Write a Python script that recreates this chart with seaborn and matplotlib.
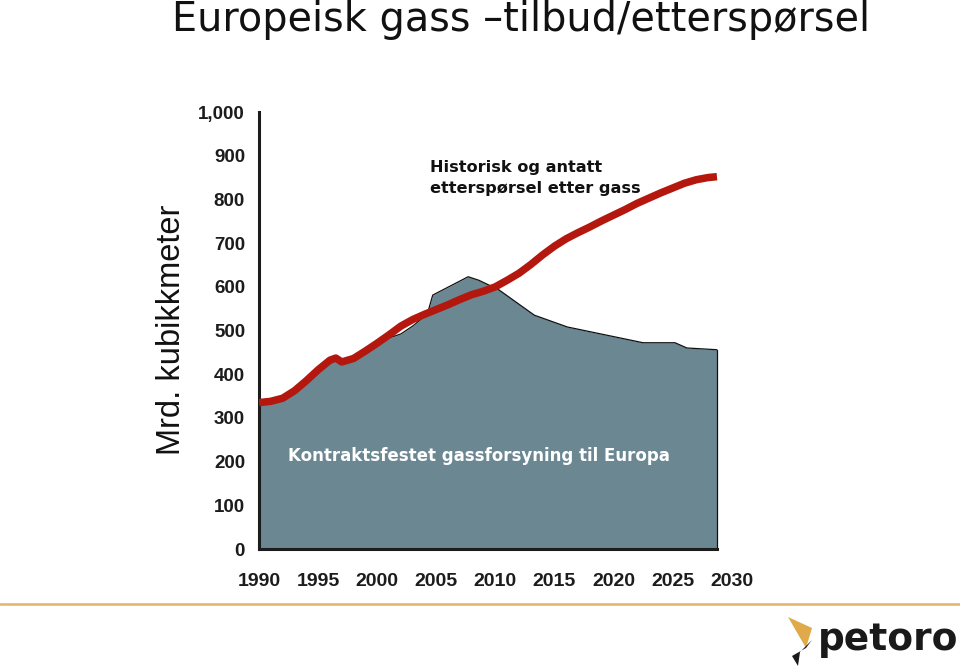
import matplotlib
matplotlib.use("Agg")
import matplotlib.pyplot as plt
from matplotlib.patches import Polygon
from matplotlib.lines import Line2D
import seaborn as sns
import pandas as pd

# ---- data ----
demand_years = [1990, 1991, 1992, 1993, 1994, 1995, 1996, 1996.5, 1997, 1998, 1999, 2000,
                2001, 2002, 2003, 2004, 2005, 2006, 2007, 2008, 2009, 2010, 2011, 2012,
                2013, 2014, 2015, 2016, 2017, 2018, 2019, 2020, 2021, 2022, 2023, 2024,
                2025, 2026, 2027, 2028, 2028.75]
demand_values = [335, 338, 345, 362, 385, 410, 432, 437, 428, 436, 453, 471,
                 490, 510, 525, 537, 548, 559, 571, 582, 590, 600, 615, 631,
                 651, 673, 693, 710, 724, 737, 751, 764, 777, 791, 803, 815,
                 826, 837, 845, 850, 852]

supply_years = [1990, 1991, 1992, 1993, 1994, 1995, 1996, 1996.5, 1997, 1998, 1999, 2000,
                2001, 2002, 2003, 2004, 2004.3, 2004.7, 2007.7, 2008.6, 2010.3, 2013.3,
                2016.1, 2022.5, 2025.2, 2026.2, 2028.75]
supply_values = [330, 333, 340, 357, 380, 405, 430, 434, 425, 432, 448, 465,
                 483, 492, 510, 532, 543, 581, 623, 615, 593, 535,
                 508, 472, 472, 460, 456]

x_tick_labels = [1990, 1995, 2000, 2005, 2010, 2015, 2020, 2025, 2030]
y_ticks = list(range(0, 1001, 100))

title = "Europeisk gass \u2013tilbud/etterspørsel"
y_label = "Mrd. kubikkmeter"
demand_label = "Historisk og antatt\netterspørsel etter gass"
supply_label = "Kontraktsfestet gassforsyning til Europa"

# ---- figure ----
sns.set_style("white")
plt.rcParams["font.family"] = ["Liberation Sans", "DejaVu Sans"]

W, H = 960, 667
fig = plt.figure(figsize=(W / 100, H / 100), dpi=100)
ax = fig.add_axes([259 / W, (H - 549) / H, 481 / W, 437 / H])
ax.set_facecolor("none")

ink = "#1c1c1c"
area_color = "#6a8792"
red = "#b3170e"

ax.fill_between(supply_years, 0, supply_values, color=area_color, linewidth=0, zorder=1)
ax.plot(supply_years, supply_values, color="#111111", lw=0.9, zorder=2)
ax.plot([supply_years[-1], supply_years[-1]], [0, supply_values[-1]],
        color="#111111", lw=0.9, zorder=2)

df = pd.DataFrame({"year": demand_years, "value": demand_values})
sns.lineplot(data=df, x="year", y="value", ax=ax, color=red, lw=5.4,
             solid_capstyle="butt", solid_joinstyle="round", zorder=3, sort=False)

ax.set_xlim(1990, 2030.7)
ax.set_ylim(0, 1000)
ax.set_xlabel("")
ax.set_ylabel("")

for s in ["top", "right"]:
    ax.spines[s].set_visible(False)
for s in ["left", "bottom"]:
    ax.spines[s].set_color(ink)
    ax.spines[s].set_linewidth(2.2)
ax.spines["bottom"].set_bounds(1990, 2028.75)
ax.spines["left"].set_bounds(0, 1000)

ax.set_yticks(y_ticks)
ax.set_yticklabels([f"{v:,}" for v in y_ticks])
ax.tick_params(axis="y", direction="out", length=5, width=2.2, color=ink,
               labelsize=13.5, labelcolor=ink, pad=5)
for t in ax.get_yticklabels():
    t.set_fontweight("bold")

ax.xaxis.remove_overlapping_locs = False
ax.set_xticks(x_tick_labels)
ax.set_xticklabels([str(v) for v in x_tick_labels])
ax.set_xticks(list(range(1990, 2029)), minor=True)
ax.tick_params(axis="x", which="major", length=0, labelsize=14, labelcolor=ink, pad=17)
ax.tick_params(axis="x", which="minor", direction="out", length=5, width=2.4, color=ink)
for t in ax.get_xticklabels():
    t.set_fontweight("bold")

# annotations
fig.text(430 / W, 1 - 178 / H, demand_label, fontsize=11.6, fontweight="bold",
         family="DejaVu Sans", color="#111111", va="center", ha="left",
         linespacing=1.45)
fig.text(288 / W, 1 - 456 / H, supply_label, fontsize=12, fontweight="bold",
         family="DejaVu Sans", color="white", va="center", ha="left")

# title and y-label
fig.text(172 / W, 1 - 31 / H, title, fontsize=28.6, color="#111111", ha="left",
         va="baseline", family="DejaVu Sans")
fig.text(172 / W, 1 - 330 / H, y_label, fontsize=23.5, color="#111111",
         rotation=90, ha="center", va="center")

# bottom rule
fig.add_artist(Line2D([0, 1], [1 - 604 / H, 1 - 604 / H], transform=fig.transFigure,
                      color="#e2b46c", lw=1.8))

# logo
fig.text(818 / W, 1 - 640 / H, "petoro", fontsize=27, fontweight="bold",
         color="#1a1a1a", ha="left", va="center", family="DejaVu Sans")
flame = Polygon([[788 / W, 1 - 617 / H], [812 / W, 1 - 628 / H], [806 / W, 1 - 648 / H]],
                closed=True, transform=fig.transFigure, facecolor="#e0a94a",
                edgecolor="none")
fig.add_artist(flame)
swoosh = Polygon([[806 / W, 1 - 648 / H], [812 / W, 1 - 640 / H], [800 / W, 1 - 652 / H],
                  [798 / W, 1 - 666 / H], [792 / W, 1 - 656 / H]],
                 closed=True, transform=fig.transFigure, facecolor="#1a1a1a",
                 edgecolor="none")
fig.add_artist(swoosh)

fig.savefig("out.png", dpi=100)
